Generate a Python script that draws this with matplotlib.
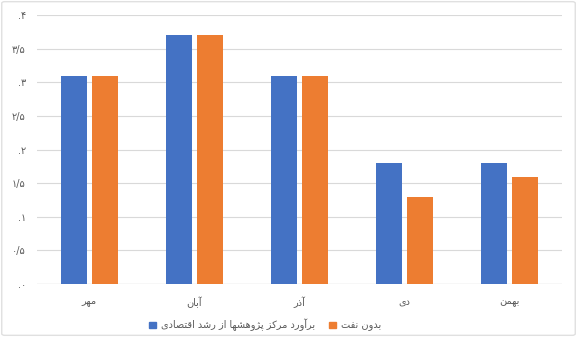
import numpy as np
import matplotlib.pyplot as plt
from matplotlib.patches import FancyBboxPatch, Patch

months = ["مهر", "آبان", "آذر", "دی", "بهمن"]
series_names = ["برآورد مرکز پژوهشها از رشد اقتصادی", "بدون نفت"]
growth_total = [3.1, 3.7, 3.1, 1.8, 1.8]
growth_no_oil = [3.1, 3.7, 3.1, 1.3, 1.6]
y_ticks = [0, 0.5, 1, 1.5, 2, 2.5, 3, 3.5, 4]

# presentation forms: isolated, final, initial, medial
FORMS = {
    "ا": (0xFE8D, 0xFE8E), "آ": (0xFE81, 0xFE82),
    "د": (0xFEA9, 0xFEAA), "ذ": (0xFEAB, 0xFEAC),
    "ر": (0xFEAD, 0xFEAE), "ز": (0xFEAF, 0xFEB0),
    "ژ": (0xFB8A, 0xFB8B), "و": (0xFEED, 0xFEEE),
    "ب": (0xFE8F, 0xFE90, 0xFE91, 0xFE92), "پ": (0xFB56, 0xFB57, 0xFB58, 0xFB59),
    "ت": (0xFE95, 0xFE96, 0xFE97, 0xFE98), "ش": (0xFEB5, 0xFEB6, 0xFEB7, 0xFEB8),
    "ص": (0xFEB9, 0xFEBA, 0xFEBB, 0xFEBC), "ف": (0xFED1, 0xFED2, 0xFED3, 0xFED4),
    "ق": (0xFED5, 0xFED6, 0xFED7, 0xFED8), "ک": (0xFB8E, 0xFB8F, 0xFB90, 0xFB91),
    "م": (0xFEE1, 0xFEE2, 0xFEE3, 0xFEE4), "ن": (0xFEE5, 0xFEE6, 0xFEE7, 0xFEE8),
    "ه": (0xFEE9, 0xFEEA, 0xFEEB, 0xFEEC), "ی": (0xFBFC, 0xFBFD, 0xFBFE, 0xFBFF),
}


def shape(text):
    out = []
    for i, ch in enumerate(text):
        if ch not in FORMS:
            out.append(ch)
            continue
        f = FORMS[ch]
        prev = text[i - 1] if i > 0 else ""
        nxt = text[i + 1] if i + 1 < len(text) else ""
        pj = prev in FORMS and len(FORMS[prev]) == 4
        nj = len(f) == 4 and nxt in FORMS
        if pj and nj:
            out.append(chr(f[3]))
        elif pj:
            out.append(chr(f[1]))
        elif nj:
            out.append(chr(f[2]))
        else:
            out.append(chr(f[0]))
    return "".join(out)[::-1]


def fa_num(v):
    digits = "۰۱۲۳۴۵۶۷۸۹"
    whole = int(v)
    frac = int(round((v - whole) * 10))
    if frac == 0:
        return "." + digits[whole]
    return digits[whole] + "/" + digits[frac]


plt.rcParams['font.family'] = ['DejaVu Sans']
fig = plt.figure(figsize=(5.77, 3.37), dpi=100)
ax = fig.add_axes([0.064, 0.157, 0.91, 0.798])

x = np.arange(len(months))
w = 0.245
ax.bar(x - 0.145, growth_total, w, color="#4472C4", zorder=3)
ax.bar(x + 0.145, growth_no_oil, w, color="#ED7D31", zorder=3)

ax.set_xlim(-0.5, len(months) - 0.5)
ax.set_ylim(0, 4)
ax.set_yticks(y_ticks)
ax.set_yticklabels([fa_num(v) for v in y_ticks])
ax.set_xticks(x)
ax.set_xticklabels([shape(m) for m in months])
ax.tick_params(length=0, colors="#595959", labelsize=7)
ax.tick_params(axis="y", pad=8)
ax.tick_params(axis="x", pad=9)
ax.grid(axis="y", color="#d9d9d9", lw=0.8, zorder=0)
for s in ax.spines.values():
    s.set_visible(False)
ax.axhline(0, color="#d9d9d9", lw=0.9, zorder=2)

handles = [Patch(color="#4472C4"), Patch(color="#ED7D31")]
fig.legend(handles, [shape(n) for n in series_names], loc="center",
           bbox_to_anchor=(265 / 577, 1 - 325 / 337), ncol=2, frameon=False,
           fontsize=7, labelcolor="#595959", handlelength=0.7, handleheight=0.7,
           handletextpad=0.5, columnspacing=1.5)

fig.patches.append(FancyBboxPatch((0.003, 0.005), 0.994, 0.99,
                                  boxstyle="round,pad=0,rounding_size=0.005",
                                  transform=fig.transFigure, fill=False,
                                  ec="#e0e0e0", lw=1))

fig.savefig("out.png", dpi=100)
